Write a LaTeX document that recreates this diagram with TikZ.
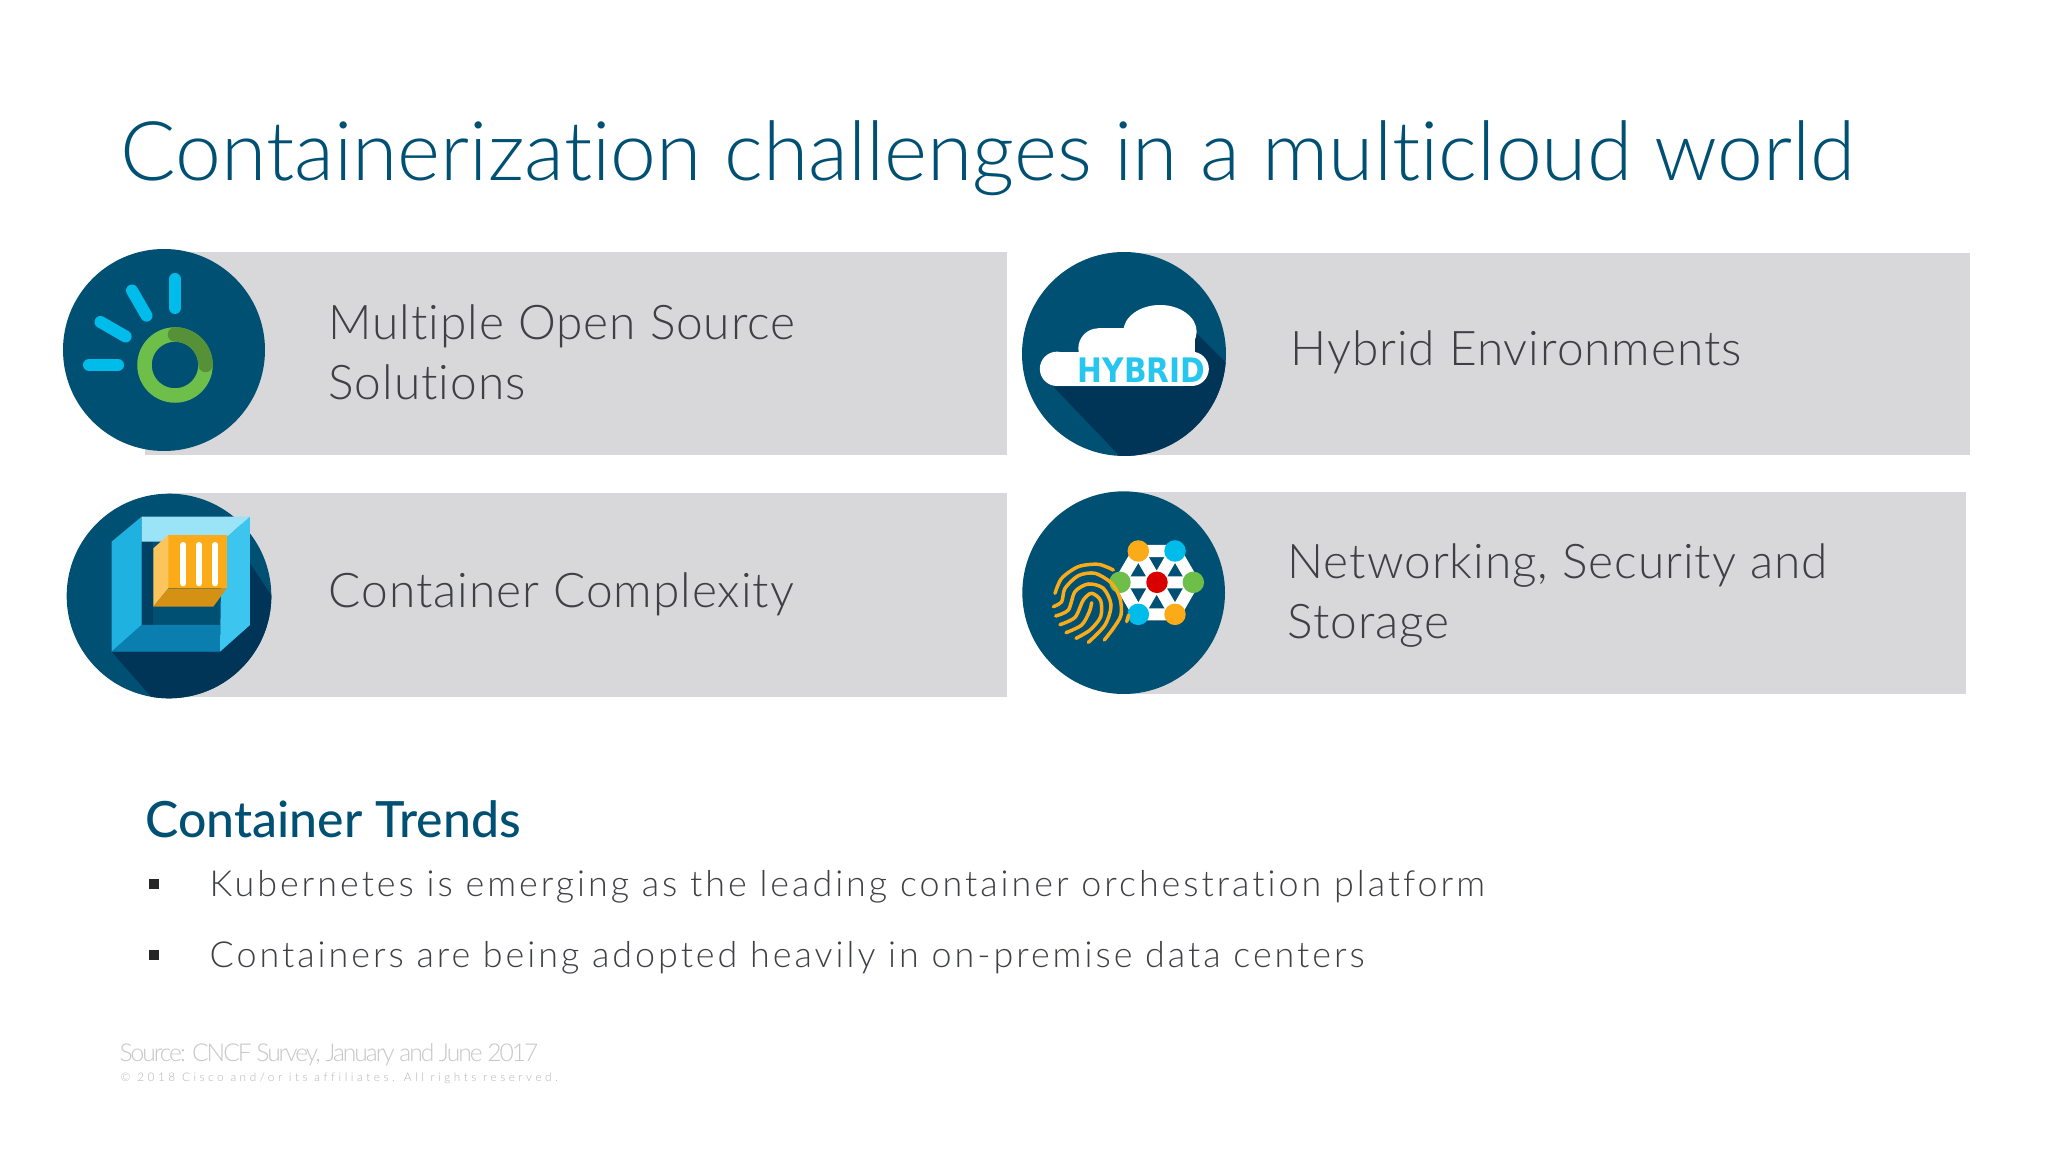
\documentclass[tikz,border=0pt]{standalone}
\usepackage{fontspec}
\usetikzlibrary{calc,positioning}
\setmainfont{Lato}[UprightFont=* Light,BoldFont=* Medium,Ligatures=NoCommon]
\newfontfamily\spacedfont{Lato}[UprightFont=* Light,LetterSpace=2,Ligatures=NoCommon]
\newfontfamily\trendfont{Lato}[UprightFont=* Light,LetterSpace=8.3,Ligatures=NoCommon]
\newfontfamily\tightfont{Lato}[UprightFont=* Light,LetterSpace=-8.3,Ligatures=NoCommon]
\newfontfamily\widefont{Lato}[UprightFont=* Light,LetterSpace=30,Ligatures=NoCommon]
\newfontfamily\hybridfont{DejaVu Sans}[BoldFont=* Bold]
\definecolor{ciscoblue}{HTML}{005073}
\definecolor{ciscodark}{HTML}{003558}
\definecolor{barcolor}{HTML}{D8D7D9}
\definecolor{textgray}{HTML}{3E4044}
\definecolor{skyblue}{HTML}{00BCEB}
\definecolor{ringgreen}{HTML}{6EBE4A}
\definecolor{darkgreen}{HTML}{569137}
\definecolor{orangetone}{HTML}{FBAB18}
\definecolor{boxleft}{HTML}{1FB1E0}
\definecolor{boxright}{HTML}{3CC6EF}
\definecolor{boxtop}{HTML}{9BE3F7}
\definecolor{boxbottom}{HTML}{0A7FAF}
\tikzset{
  bar/.style={fill=barcolor,draw=none},
  disc/.style={fill=ciscoblue,draw=none},
  barlabel/.style={anchor=base west,inner sep=0pt,text=textgray,font=\spacedfont\fontsize{13.6}{17}\selectfont},
  trendlabel/.style={anchor=base west,inner sep=0pt,text=textgray,font=\trendfont\fontsize{10.2}{12}\selectfont},
  bulletbox/.style={fill=black!85,inner sep=0pt,minimum size=0.1cm},
  ray/.style={skyblue,line width=0.12cm,line cap=round},
  print/.style={orangetone,line width=0.035cm,line cap=round},
  link/.style={white,line width=0.12cm},
  spot/.style={circle,inner sep=0pt,minimum size=0.215cm}
}

\begin{document}
\begin{tikzpicture}[x=0.01cm,y=-0.01cm]
  \useasboundingbox (0,0) rectangle (2048,1152);
  \fill[white] (0,0) rectangle (2048,1152);
  \node[anchor=base west,inner sep=0pt,text=ciscoblue,font=\fontsize{23.4}{28}\selectfont] (title) at (120,181) {Containerization challenges in a multicloud world};

  % bars
  \fill[bar] (145,252) rectangle (1007,455);
  \fill[bar] (1124,253) rectangle (1970,455);
  \fill[bar] (168,493) rectangle (1007,697);
  \fill[bar] (1124,492) rectangle (1966,694);

  % open source icon
  \fill[disc] (164,350) circle (101);
  \coordinate (ring) at (175,365);
  \foreach \a/\rin/\rout in {-90/57/86,-120/57/86,-150/57/86,180/57/86}{
    \draw[ray] ($(ring)+(\a:\rin)$) -- ($(ring)+(\a:\rout)$);
  }
  \draw[ringgreen,line width=0.145cm] (ring) circle (30.5);
  \draw[darkgreen,line width=0.145cm,line cap=round] (175,334.5) arc (-90:0:30.5);

  % hybrid icon
  \begin{scope}[shift={(1010,240)},scale=1/3]
    \fill[disc] (342,342) circle (306);
    \begin{scope}
      \clip (342,342) circle (306);
      \fill[ciscodark] (130,440) -- (350,670) -- (700,670) -- (700,420) -- (520,240) -- (520,440) -- cycle;
    \end{scope}
    \fill[white] (141,335) rectangle (545,438);
    \fill[white] (141,386.5) circle (51.5);
    \fill[white] (545,386.5) circle (51.5);
    \fill[white] (265,325) circle (60);
    \fill[white] (265,265) rectangle (555,340);
    \fill[white] (450,275) ellipse (110 and 80);
    \node[inner sep=0pt,text=skyblue!85!white,font=\hybridfont\bfseries\fontsize{9.6}{11}\selectfont] (hybrid) at (395,391) {\scalebox{0.88}[1]{HYBRID}};
  \end{scope}

  % container icon
  \begin{scope}[shift={(50,480)},scale=1/3]
    \fill[disc] (357,348) circle (307);
    \begin{scope}
      \clip (357,348) circle (307);
      \fill[ciscodark] (185,515) -- (320,670) -- (700,670) -- (700,400) -- (600,250) -- (600,435) -- (510,515) -- cycle;
    \end{scope}
    \fill[ciscoblue] (275,185) rectangle (515,435);
    \fill[ciscodark!60!ciscoblue] (275,185) rectangle (310,435);
    \fill[boxleft] (185,185) -- (275,110) -- (275,435) -- (185,515) -- cycle;
    \fill[boxtop] (275,110) -- (600,110) -- (515,185) -- (275,185) -- cycle;
    \fill[boxright] (515,185) -- (600,110) -- (600,435) -- (510,515) -- cycle;
    \fill[boxbottom] (185,515) -- (275,435) -- (510,435) -- (510,515) -- cycle;
    \fill[orangetone] (355,165) rectangle (530,325);
    \fill[orangetone!70!white] (310,205) -- (355,165) -- (355,325) -- (310,380) -- cycle;
    \fill[orangetone!85!black] (310,380) -- (355,325) -- (530,325) -- (490,380) -- cycle;
    \foreach \x in {400,447,495}{
      \draw[white,line width=0.06cm,line cap=round] (\x,195) -- (\x,310);
    }
  \end{scope}

  % networking icon
  \begin{scope}[shift={(1010,480)},scale=1/3]
    \fill[disc] (341,338) circle (304);
    \coordinate (n0) at (441,307);
    \coordinate (n1) at (385,213);
    \coordinate (n2) at (495,213);
    \coordinate (n3) at (550,307);
    \coordinate (n4) at (495,403);
    \coordinate (n5) at (385,403);
    \coordinate (n6) at (330,307);
    \draw[link] (n1) -- (n2) -- (n3) -- (n4) -- (n5) -- (n6) -- cycle;
    \draw[link] (n1) -- (n4) (n2) -- (n5) (n3) -- (n6);
    \node[spot,fill=orangetone] (s1) at (n1) {};
    \node[spot,fill=skyblue] (s2) at (n2) {};
    \node[spot,fill=ringgreen] (s3) at (n3) {};
    \node[spot,fill=orangetone] (s4) at (n4) {};
    \node[spot,fill=skyblue] (s5) at (n5) {};
    \node[spot,fill=ringgreen] (s6) at (n6) {};
    \node[spot,fill=red!85!black] (s0) at (n0) {};
    \draw[print] plot[smooth] coordinates {(135,340) (155,295) (205,260) (265,253) (310,270)};
    \draw[print] plot[smooth] coordinates {(130,380) (155,365) (165,325) (205,287) (255,280) (305,310) (330,355) (333,405) (310,445) (283,480)};
    \draw[print] plot[smooth] coordinates {(137,408) (175,390) (195,335) (235,312) (280,325) (303,375) (285,435) (235,487)};
    \draw[print] plot[smooth] coordinates {(150,434) (195,412) (220,360) (245,340) (272,362) (272,410) (240,450) (198,475)};
    \draw[print] plot[smooth] coordinates {(168,458) (215,435) (238,395) (245,368)};
    \draw[print] (350,425) -- (356,405);
  \end{scope}

  % labels
  \node[barlabel] (open) at (328,340) {Multiple Open Source};
  \node[barlabel] (solutions) at (328,400) {Solutions};
  \node[barlabel] (envs) at (1290,366) {Hybrid Environments};
  \node[barlabel] (complexity) at (328,607) {Container Complexity};
  \node[barlabel] (networking) at (1287,579) {Networking, Security and};
  \node[barlabel] (storage) at (1287,639) {Storage};

  % trends
  \node[anchor=base west,inner sep=0pt,text=ciscoblue,font=\bfseries\fontsize{14.2}{17}\selectfont] (trends) at (145,837) {Container Trends};
  \node[bulletbox] (b1) at (154,884) {};
  \node[trendlabel,right=0.55cm of b1.center,anchor=west,yshift=-0.03cm] (t1) {Kubernetes is emerging as the leading container orchestration platform};
  \node[bulletbox] (b2) at (154,955) {};
  \node[trendlabel,right=0.55cm of b2.center,anchor=west,yshift=-0.03cm] (t2) {Containers are being adopted heavily in on-premise data centers};

  % footer
  \node[anchor=base west,inner sep=0pt,text=black!22,font=\tightfont\fontsize{7}{8}\selectfont] (source) at (119,1061) {Source: CNCF Survey, January and June 2017};
  \node[anchor=base west,inner sep=0pt,text=black!30,font=\widefont\fontsize{3.35}{4}\selectfont] (copy) at (120,1081) {\textcopyright\ 2018 Cisco and/or its affiliates. All rights reserved.};
\end{tikzpicture}
\end{document}
